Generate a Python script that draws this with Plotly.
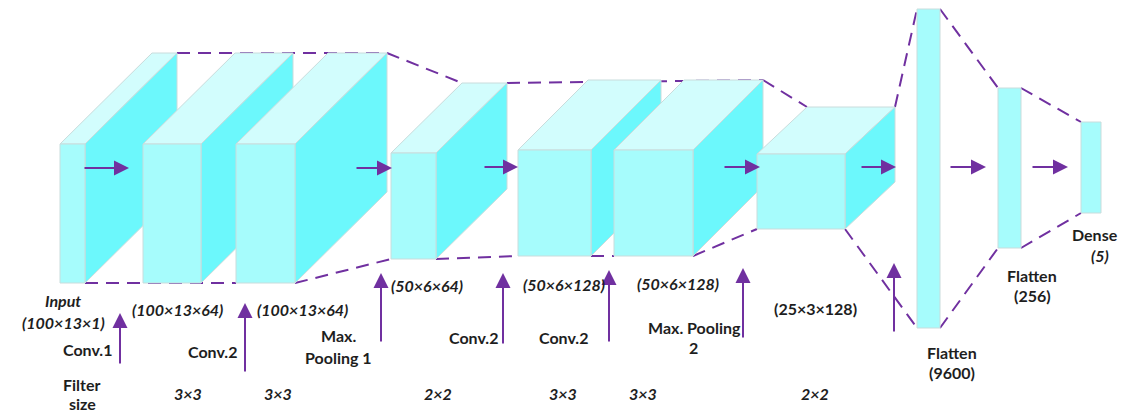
import plotly.graph_objects as go

# ---- layer geometry (pixel-like data coordinates, y grows downward) ----
# 3D blocks: front face x0, x1, y_top, y_bottom and depth offset dx, dy
block_x0 = [60, 143, 236, 391, 518, 614, 757]
block_x1 = [85, 201, 295, 436, 591, 693, 845]
block_yt = [144, 144, 144, 153, 150, 150, 154]
block_yb = [283, 283, 283, 259, 256, 256, 229]
block_dx = [92, 92, 92, 71, 70, 70, 50]
block_dy = [-91, -91, -91, -70, -70, -70, -47]

# flat (dense) layers
flat_x0 = [917, 998, 1081]
flat_x1 = [940, 1021, 1101]
flat_yt = [9, 88, 122]
flat_yb = [328, 248, 213]

# dashed connectors (x0, y0, x1, y1)
dash_x0 = [177, 85, 295, 387, 507, 436, 591, 693, 763, 895, 845, 940, 940, 1021, 1021]
dash_y0 = [53, 283, 283, 53, 83, 259, 256, 256, 80, 107, 229, 9, 328, 88, 248]
dash_x1 = [387, 236, 391, 462, 763, 518, 614, 757, 807, 917, 917, 998, 998, 1081, 1081]
dash_y1 = [53, 283, 259, 83, 80, 256, 256, 229, 107, 9, 328, 88, 248, 122, 213]

# horizontal flow arrows (tail x, head x, y)
harrow_x0 = [83, 355, 483, 723, 860, 949, 1031]
harrow_x1 = [129, 392, 518, 760, 896, 986, 1068]
harrow_y = [168, 168, 167, 167, 167, 167, 167]

# vertical operation arrows (x, tail y, head y)
varrow_x = [120, 245, 381, 503, 609, 743, 894]
varrow_y0 = [365, 373, 343, 345, 343, 339, 333]
varrow_y1 = [313, 303, 273, 273, 270, 268, 263]

# text labels
label_text = [
    "<b><i>Input</i></b>", "<b><i>(100×13×1)</i></b>",
    "<b><i>(100×13×64)</i></b>", "<b><i>(100×13×64)</i></b>",
    "<b>Conv.1</b>", "<b>Conv.2</b>", "<b>Max.</b>", "<b>Pooling 1</b>",
    "<b>Filter</b>", "<b>size</b>", "<b><i>3×3</i></b>", "<b><i>3×3</i></b>",
    "<b><i>(50×6×64)</i></b>", "<b><i>(50×6×128)</i></b>", "<b><i>(50×6×128)</i></b>",
    "<b>(25×3×128)</b>", "<b>Conv.2</b>", "<b>Conv.2</b>",
    "<b>Max. Pooling</b>", "<b>2</b>",
    "<b><i>2×2</i></b>", "<b><i>3×3</i></b>", "<b><i>3×3</i></b>", "<b><i>2×2</i></b>",
    "<b>Flatten</b>", "<b>(9600)</b>", "<b>Flatten</b>", "<b>(256)</b>",
    "<b>Dense</b>", "<b><i>(5)</i></b>",
]
label_x = [63, 63, 177, 302, 87, 212, 338, 338, 82, 82, 188, 278,
           427, 564, 678, 815, 473, 563, 694, 693, 438, 563, 643, 815,
           952, 952, 1032, 1032, 1095, 1100]
label_y = [300, 322, 309, 309, 349, 351, 335, 357, 384, 403, 393, 393,
           285, 284, 283, 308, 337, 337, 327, 347, 393, 393, 393, 393,
           352, 372, 275, 295, 234, 255]

# ---- styles ----
FRONT = "#a6fcfc"
SIDE = "#6cf8fc"
TOP = "#d2fdfd"
EDGE = "#c9dcdc"
PURPLE = "#7030a0"

fig = go.Figure()

# dashed connectors (drawn first so blocks hide them)
for x0, y0, x1, y1 in zip(dash_x0, dash_y0, dash_x1, dash_y1):
    fig.add_trace(go.Scatter(x=[x0, x1], y=[y0, y1], mode="lines",
                             line=dict(color=PURPLE, width=2, dash="13px,8px"),
                             hoverinfo="skip", showlegend=False))


def face(xs, ys, color):
    fig.add_trace(go.Scatter(x=xs + [xs[0]], y=ys + [ys[0]], mode="lines",
                             fill="toself", fillcolor=color,
                             line=dict(color=EDGE, width=1),
                             hoverinfo="skip", showlegend=False))


for x0, x1, yt, yb, dx, dy in zip(block_x0, block_x1, block_yt, block_yb,
                                  block_dx, block_dy):
    face([x0, x1, x1 + dx, x0 + dx], [yt, yt, yt + dy, yt + dy], TOP)
    face([x1, x1 + dx, x1 + dx, x1], [yt, yt + dy, yb + dy, yb], SIDE)
    face([x0, x1, x1, x0], [yt, yt, yb, yb], FRONT)

for x0, x1, yt, yb in zip(flat_x0, flat_x1, flat_yt, flat_yb):
    face([x0, x1, x1, x0], [yt, yt, yb, yb], FRONT)

annotations = []
for x0, x1, y in zip(harrow_x0, harrow_x1, harrow_y):
    annotations.append(dict(x=x1, y=y, ax=x0, ay=y, xref="x", yref="y",
                            axref="x", ayref="y", showarrow=True, text="",
                            arrowhead=2, arrowsize=1.5, arrowwidth=2,
                            arrowcolor=PURPLE))
for x, y0, y1 in zip(varrow_x, varrow_y0, varrow_y1):
    annotations.append(dict(x=x, y=y1, ax=x, ay=y0, xref="x", yref="y",
                            axref="x", ayref="y", showarrow=True, text="",
                            arrowhead=2, arrowsize=1.5, arrowwidth=2,
                            arrowcolor=PURPLE))
for t, x, y in zip(label_text, label_x, label_y):
    annotations.append(dict(x=x, y=y, xref="x", yref="y", text=t,
                            showarrow=False, xanchor="center", yanchor="middle",
                            font=dict(family="Lato", size=16, color="#1e1e1e")))

fig.update_layout(
    width=1128, height=413,
    margin=dict(l=0, r=0, t=0, b=0),
    paper_bgcolor="white", plot_bgcolor="white",
    xaxis=dict(range=[0, 1128], visible=False, fixedrange=True),
    yaxis=dict(range=[413, 0], visible=False, fixedrange=True),
    annotations=annotations,
    showlegend=False,
)

fig.write_html(
    "out.html",
    config={"displayModeBar": False},
    post_script="document.body.style.margin='0';document.body.style.overflow='hidden';",
)
